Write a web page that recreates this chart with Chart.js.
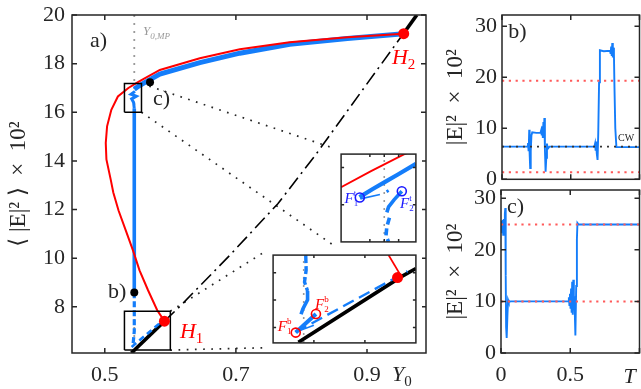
<!DOCTYPE html>
<html>
<head>
<meta charset="utf-8">
<script src="https://cdn.jsdelivr.net/npm/chart.js@4.4.1/dist/chart.umd.min.js"></script>
<style>
  html, body { margin: 0; padding: 0; background: #fff; }
  #wrap { position: relative; width: 641px; height: 389px; overflow: hidden; }
  canvas { position: absolute; }
  .inset { background: #fff; }
</style>
</head>
<body>
<div id="wrap">
  <canvas id="main" width="440" height="389" style="left:0;top:0"></canvas>
  <canvas id="pb" width="201" height="190" style="left:440px;top:0"></canvas>
  <canvas id="pc" width="201" height="204" style="left:440px;top:185px"></canvas>
  <canvas id="insT" class="inset"></canvas>
  <canvas id="insB" class="inset"></canvas>
</div>
<script>
// ---- data ----
// a) main bifurcation diagram: Y0 vs <|E|^2> x 10^2
const mainXTicks = [0.5, 0.7, 0.9];
const mainYTicks = [8, 10, 12, 14, 16, 18, 20];

const redY0 = [0.591, 0.580, 0.566, 0.553, 0.543, 0.532, 0.521, 0.513, 0.509, 0.5025, 0.5015, 0.5035, 0.510, 0.520, 0.536, 0.548, 0.558, 0.584, 0.645, 0.706, 0.782, 0.870, 0.956];
const redE  = [7.41, 7.86, 8.68, 9.50, 10.32, 11.14, 11.96, 12.70, 13.24, 14.06, 14.74, 15.42, 16.10, 16.65, 17.00, 17.20, 17.35, 17.74, 18.22, 18.59, 18.88, 19.08, 19.23];

const blueUpY0 = [0.545, 0.553, 0.566, 0.584, 0.645, 0.706, 0.782, 0.870, 0.956];
const blueUpE  = [16.95, 17.10, 17.30, 17.57, 18.04, 18.43, 18.80, 19.03, 19.23];

const blueVertY0 = [0.545, 0.545];
const blueVertE  = [16.15, 8.70];
const blueLowY0 = [0.545, 0.545, 0.543];
const blueLowE  = [8.60, 7.00, 6.40];
const blueDiagY0 = [0.541, 0.585];
const blueDiagE  = [6.35, 7.35];
const blueHookY0 = [0.545, 0.544, 0.541, 0.548, 0.540, 0.546];
const blueHookE  = [16.15, 16.40, 16.55, 16.66, 16.74, 16.86];

const blackLowY0 = [0.5406, 0.591];
const blackLowE  = [6.10, 7.41];
const blackMidY0 = [0.591, 0.614, 0.690, 0.764, 0.820, 0.890, 0.956];
const blackMidE  = [7.41, 8.00, 10.10, 12.24, 14.19, 16.80, 19.25];
const blackTopY0 = [0.956, 0.976];
const blackTopE  = [19.25, 20.00];

const hopfY0 = [0.591, 0.956];
const hopfE  = [7.41, 19.23];
const markY0 = [0.545, 0.569];
const markE  = [8.59, 17.23];
const y0MP = 0.545;

// zoom windows (rectangles) and where their insets sit, in main-axis units
const rectTop = { x: [0.530, 0.556], y: [16.00, 17.18] };
const rectBot = { x: [0.530, 0.600], y: [6.22, 7.82] };
const insetTop = { x: [0.8527, 0.9823], y: [10.46, 14.49] };
const insetBot = { x: [0.7485, 0.9823], y: [6.32, 10.34] };

// upper inset (top fold)
const uRedY0 = [0.530, 0.5404, 0.552, 0.5535];
const uRedE  = [16.735, 16.951, 17.18, 17.20];
const uBlueY0 = [0.5364, 0.5410, 0.5453, 0.5496, 0.556];
const uBlueE  = [16.602, 16.710, 16.807, 16.903, 17.048];
const uThinY0 = [0.5367, 0.5435];
const uThinE  = [16.578, 16.638];
const uBitY0 = [0.5459, 0.5468];
const uBitE  = [16.70, 16.64];
const uDownY0 = [0.5511, 0.5484, 0.5465, 0.5459];
const uDownE  = [16.680, 16.566, 16.470, 16.397];
const uTailY0 = [0.5468, 0.5459, 0.5456, 0.5465];
const uTailE  = [16.325, 16.205, 16.084, 16.00];
const uFY0 = [0.5365, 0.5511];
const uFE  = [16.596, 16.680];
const uXTicks = [0.54, 0.545, 0.55];
const uYTicks = [16.5, 17];

// lower inset (bottom fold)
const lBlackY0 = [0.5424, 0.5929, 0.600];
const lBlackE  = [6.231, 7.428, 7.575];
const lRedY0 = [0.5929, 0.5866];
const lRedE  = [7.428, 7.82];
const lDashY0 = [0.5411, 0.5959];
const lDashE  = [6.416, 7.526];
const lThinY0 = [0.5411, 0.550];
const lThinE  = [6.416, 6.542];
const lFY0 = [0.5411, 0.5510];
const lFE  = [6.408, 6.747];
const lWigDashY0 = [0.5460, 0.5462, 0.5454, 0.5469];
const lWigDashE  = [7.82, 7.547, 7.330, 7.167];
const lWigY0 = [0.5469, 0.5469, 0.5446, 0.5437];
const lWigE  = [7.167, 7.004, 6.840, 6.742];
const lXTicks = [0.55, 0.575];
const lYTicks = [6.5, 7, 7.5];

// b) and c) time traces: T vs |E|^2 x 10^2
const sideXTicks = [0, 0.5, 1];
const sideYTicks = [0, 10, 20, 30];
const bT = [0, 0.185, 0.189, 0.193, 0.196, 0.198, 0.201, 0.205, 0.209, 0.214, 0.22, 0.25, 0.28, 0.285, 0.289, 0.293, 0.297, 0.301, 0.305, 0.308, 0.312, 0.317, 0.322, 0.327, 0.333, 0.345,
            0.5, 0.672, 0.677, 0.681, 0.685, 0.689, 0.695, 0.70, 0.706, 0.712, 0.74, 0.786, 0.79, 0.794, 0.798, 0.802, 0.806, 0.81, 0.814, 0.818, 0.824, 0.832, 1.0];
const bE = [6.4, 6.4, 7.1, 5.7, 7.6, 9.7, 5.0, 2.2, 5.5, 8.6, 9.2, 9.1, 9.1, 9.6, 8.6, 10.4, 8.1, 11.2, 8.4, 12.0, 6.0, 1.5, 4.2, 7.0, 6.0, 6.4,
            6.4, 6.4, 7.0, 5.6, 7.4, 5.1, 3.8, 9.0, 19.0, 25.3, 25.1, 25.2, 24.6, 26.0, 24.2, 26.7, 23.9, 25.8, 24.5, 18.0, 10.0, 6.3, 6.3];
const bRedLevels = [19.3, 1.4];
const bCW = 6.4;

const cT = [0, 0.004, 0.008, 0.012, 0.016, 0.02, 0.024, 0.028, 0.031, 0.034, 0.037, 0.041, 0.046, 0.051, 0.056, 0.07, 0.3,
            0.485, 0.49, 0.494, 0.498, 0.502, 0.506, 0.51, 0.514, 0.518, 0.522, 0.526, 0.53, 0.537, 0.543, 0.548, 0.552, 0.56, 1.0];
const cE = [24.9, 25.6, 23.4, 25.8, 22.9, 26.0, 23.8, 27.0, 28.1, 15.0, 5.0, 2.9, 7.0, 10.3, 9.9, 10.0, 10.0,
            10.0, 10.8, 9.3, 11.5, 8.6, 12.5, 7.8, 13.8, 7.4, 14.2, 8.5, 11.0, 3.4, 13.0, 22.0, 25.2, 24.9, 24.9];
const cRedLevels = [24.9, 10.0];

// ---- styling / helpers ----
const FONT = "'Liberation Serif', 'DejaVu Serif', serif";
const INK = '#262626';
const BLUE = 'rgb(20,125,250)';
const RED = '#ff0000';
const DEEPBLUE = '#1a1aff';

Chart.defaults.font.family = FONT;
Chart.defaults.color = INK;
Chart.defaults.animation = false;
Chart.defaults.plugins.legend.display = false;
Chart.defaults.plugins.tooltip.enabled = false;

function line(xs, ys, color, width, dash, extra) {
  return Object.assign({
    data: xs.map((x, i) => ({ x: x, y: ys[i] })),
    showLine: true,
    borderColor: color,
    backgroundColor: color,
    borderWidth: width,
    borderDash: dash || [],
    pointRadius: 0,
    tension: 0
  }, extra || {});
}
function dots(xs, ys, color, r, open) {
  return {
    data: xs.map((x, i) => ({ x: x, y: ys[i] })),
    showLine: false,
    pointRadius: r,
    pointBorderWidth: open ? 1.6 : 0,
    pointBorderColor: color,
    pointBackgroundColor: open ? 'rgba(255,255,255,0)' : color
  };
}
function box(b, color, width, dash) {
  return line([b.x[0], b.x[1], b.x[1], b.x[0], b.x[0]], [b.y[0], b.y[0], b.y[1], b.y[1], b.y[0]], color, width, dash);
}
// first in list is drawn first (bottom)
function stack(list) {
  return list.map((d, i) => Object.assign(d, { order: list.length - i }));
}

function axis(min, max, ticks, o) {
  o = o || {};
  return {
    type: 'linear', min: min, max: max,
    display: o.display !== false,
    grid: { display: false, drawTicks: false },
    border: { display: false },
    ticks: {
      display: o.labels !== false, autoSkip: false, maxRotation: 0,
      padding: o.pad || 6, font: { size: 22 }, color: INK,
      callback: o.fmt || (v => String(v))
    },
    title: o.title ? { display: true, text: o.title, font: { size: 23 }, color: INK, padding: { top: o.tpad || 0, bottom: 0 } } : { display: false },
    afterBuildTicks: s => { s.ticks = ticks.map(v => ({ value: v })); },
    afterFit: s => {
      s.paddingTop = 0; s.paddingBottom = 0; s.paddingLeft = 0; s.paddingRight = 0;
      if (o.size != null) { if (s.isHorizontal()) s.height = o.size; else s.width = o.size; }
    }
  };
}

// MATLAB-like box with inward ticks on all four sides
function makeFrame(xt, yt, len, width) {
  return {
    id: 'frame',
    afterDatasetsDraw(chart) {
      const { ctx, chartArea: a } = chart;
      const sx = chart.scales.x, sy = chart.scales.y;
      ctx.save();
      ctx.strokeStyle = INK;
      ctx.lineWidth = width;
      ctx.beginPath();
      xt.forEach(v => {
        const p = sx.getPixelForValue(v);
        ctx.moveTo(p, a.bottom); ctx.lineTo(p, a.bottom - len);
        ctx.moveTo(p, a.top); ctx.lineTo(p, a.top + len);
      });
      yt.forEach(v => {
        const p = sy.getPixelForValue(v);
        ctx.moveTo(a.left, p); ctx.lineTo(a.left + len, p);
        ctx.moveTo(a.right, p); ctx.lineTo(a.right - len, p);
      });
      ctx.stroke();
      ctx.strokeRect(a.left, a.top, a.right - a.left, a.bottom - a.top);
      ctx.restore();
    }
  };
}

// text notes anchored in data units (left edge, vertical middle)
function makeNotes(items) {
  return {
    id: 'notes',
    afterDraw(chart) {
      const { ctx } = chart;
      const sx = chart.scales.x, sy = chart.scales.y;
      ctx.save();
      ctx.textBaseline = 'middle';
      ctx.textAlign = 'left';
      items.forEach(n => {
        const x = sx.getPixelForValue(n.x), y = sy.getPixelForValue(n.y);
        const size = n.size || 22;
        ctx.fillStyle = n.color || INK;
        ctx.font = (n.italic ? 'italic ' : '') + size + 'px ' + FONT;
        ctx.fillText(n.text, x, y);
        const w = ctx.measureText(n.text).width;
        const s2 = Math.round(size * (n.scale || 0.68));
        ctx.font = (n.scriptItalic ? 'italic ' : '') + s2 + 'px ' + FONT;
        if (n.sub) ctx.fillText(n.sub, x + w + (n.subDx || 0), y + size * 0.32);
        if (n.sup) ctx.fillText(n.sup, x + w + (n.supDx || 0), y - size * 0.36);
      });
      ctx.restore();
    }
  };
}

// ---- a) main chart ----
const main = new Chart(document.getElementById('main'), {
  type: 'scatter',
  data: {
    datasets: stack([
      line([y0MP, y0MP], [6.1, 20], '#9a9a9a', 1.8, [2, 6]),
      line([rectTop.x[1], insetTop.x[0]], [rectTop.y[1], insetTop.y[1]], INK, 1.7, [1.7, 6.5]),
      line([rectTop.x[1], insetTop.x[0]], [rectTop.y[0], insetTop.y[0]], INK, 1.7, [1.7, 6.5]),
      line([rectBot.x[1], insetBot.x[0]], [rectBot.y[1], insetBot.y[1]], INK, 1.7, [1.7, 6.5]),
      line([rectBot.x[1], insetBot.x[0]], [rectBot.y[0], insetBot.y[0]], INK, 1.7, [1.7, 6.5]),
      line(blackMidY0, blackMidE, '#000', 1.6, [14, 5, 2, 5]),
      line(blackLowY0, blackLowE, '#000', 3.6),
      line(blackTopY0, blackTopE, '#000', 3.6),
      line(blueVertY0, blueVertE, BLUE, 3.6),
      line(blueLowY0, blueLowE, BLUE, 3.2, [6, 3]),
      line(blueDiagY0, blueDiagE, BLUE, 2.6, [6, 4]),
      line(blueHookY0, blueHookE, BLUE, 3),
      line(blueUpY0, blueUpE, BLUE, 5),
      line(redY0, redE, RED, 2),
      box(rectTop, '#000', 1.5),
      box(rectBot, '#000', 1.5),
      dots(markY0, markE, '#000', 4),
      dots(hopfY0, hopfE, RED, 5.5)
    ])
  },
  options: {
    responsive: false,
    layout: { padding: { top: 15, right: 14, left: 0, bottom: 0 } },
    scales: {
      x: axis(0.45, 0.99, mainXTicks, { size: 36, pad: 9 }),
      y: axis(6.1, 20, mainYTicks, { size: 72, pad: 7, title: '\u27E8 |E|\u00B2 \u27E9  \u00D7  10\u00B2', tpad: 5 })
    }
  },
  plugins: [
    makeFrame(mainXTicks, mainYTicks, 5, 1.5),
    makeNotes([
      { x: 0.4775, y: 18.93, text: 'a)' },
      { x: 0.5736, y: 16.55, text: 'c)' },
      { x: 0.5049, y: 8.61, text: 'b)' },
      { x: 0.6147, y: 6.97, text: 'H', italic: true, sub: '1', color: RED },
      { x: 0.9381, y: 18.23, text: 'H', italic: true, sub: '2', color: RED },
      { x: 0.5583, y: 19.30, text: 'Y', italic: true, sub: '0,MP', scriptItalic: true, color: '#9a9a9a', size: 13, scale: 0.72 },
      { x: 0.9381, y: 5.197, text: 'Y', italic: true, sub: '0', size: 22 }
    ])
  ]
});

// ---- insets, placed on the main axes ----
function placeInset(id, b) {
  const sx = main.scales.x, sy = main.scales.y;
  const l = Math.round(sx.getPixelForValue(b.x[0])), r = Math.round(sx.getPixelForValue(b.x[1]));
  const t = Math.round(sy.getPixelForValue(b.y[1])), btm = Math.round(sy.getPixelForValue(b.y[0]));
  const c = document.getElementById(id);
  c.width = r - l + 2; c.height = btm - t + 2;
  c.style.left = (l - 1) + 'px'; c.style.top = (t - 1) + 'px';
  return c;
}
function insetOptions(rect, xt, yt) {
  return {
    responsive: false,
    layout: { padding: 1 },
    scales: {
      x: axis(rect.x[0], rect.x[1], xt, { display: false }),
      y: axis(rect.y[0], rect.y[1], yt, { display: false })
    }
  };
}

new Chart(placeInset('insT', insetTop), {
  type: 'scatter',
  data: {
    datasets: stack([
      line([y0MP, y0MP], [rectTop.y[0], rectTop.y[1]], '#9a9a9a', 1.6, [2, 6]),
      line(uRedY0, uRedE, RED, 1.8),
      line(uTailY0, uTailE, BLUE, 3.6, [7, 4]),
      line(uThinY0, uThinE, BLUE, 1.6),
      line(uBitY0, uBitE, BLUE, 2.4, [3, 3]),
      line(uDownY0, uDownE, BLUE, 3.6),
      line(uBlueY0, uBlueE, BLUE, 4.2),
      dots(uFY0, uFE, DEEPBLUE, 4.5, true)
    ])
  },
  options: insetOptions(rectTop, uXTicks, uYTicks),
  plugins: [
    makeFrame(uXTicks, uYTicks, 3, 1.5),
    makeNotes([
      { x: 0.5312, y: 16.578, text: 'F', italic: true, sub: '1', sup: 't', color: DEEPBLUE, size: 15, scale: 0.62 },
      { x: 0.5505, y: 16.506, text: 'F', italic: true, sub: '2', sup: 't', color: DEEPBLUE, size: 15, scale: 0.62 }
    ])
  ]
});

new Chart(placeInset('insB', insetBot), {
  type: 'scatter',
  data: {
    datasets: stack([
      line([y0MP, y0MP], [rectBot.y[0], rectBot.y[1]], '#9a9a9a', 1.6, [2, 6]),
      line(lRedY0, lRedE, RED, 1.8),
      line(lBlackY0, lBlackE, '#000', 3.6),
      line(lDashY0, lDashE, BLUE, 2.4, [12, 6]),
      line(lThinY0, lThinE, BLUE, 1.5),
      line(lWigDashY0, lWigDashE, BLUE, 3.4, [8, 3]),
      line(lWigY0, lWigE, BLUE, 3.6),
      line(lFY0, lFE, BLUE, 4),
      dots(lFY0, lFE, RED, 4.5, true),
      dots([hopfY0[0]], [hopfE[0]], RED, 5.5)
    ])
  },
  options: insetOptions(rectBot, lXTicks, lYTicks),
  plugins: [
    makeFrame(lXTicks, lYTicks, 3, 1.5),
    makeNotes([
      { x: 0.5323, y: 6.514, text: 'F', italic: true, sub: '1', sup: 'b', color: RED, size: 15, scale: 0.62 },
      { x: 0.5506, y: 6.906, text: 'F', italic: true, sub: '2', sup: 'b', color: RED, size: 15, scale: 0.62 }
    ])
  ]
});

// ---- b) time trace ----
new Chart(document.getElementById('pb'), {
  type: 'scatter',
  data: {
    datasets: stack([
      line(bT, bE, BLUE, 1.9),
      line([0, 1], [bCW, bCW], '#333', 1.8, [2, 5]),
      line([0, 1], [bRedLevels[0], bRedLevels[0]], '#ff5a5a', 2, [2.2, 4.6]),
      line([0, 1], [bRedLevels[1], bRedLevels[1]], '#ff5a5a', 2, [2.2, 4.6])
    ])
  },
  options: {
    responsive: false,
    layout: { padding: { top: 15, right: 1.5, left: 0, bottom: 10.7 } },
    scales: {
      x: axis(0, 1, sideXTicks, { display: false }),
      y: axis(0, 32.2, sideYTicks, { size: 62, pad: 5, title: '|E|\u00B2  \u00D7  10\u00B2', tpad: 2 })
    }
  },
  plugins: [
    makeFrame(sideXTicks, sideYTicks, 5, 1.5),
    makeNotes([
      { x: 0.0457, y: 28.76, text: 'b)' },
      { x: 0.844, y: 8.02, text: 'CW', size: 10 }
    ])
  ]
});

// ---- c) time trace ----
new Chart(document.getElementById('pc'), {
  type: 'scatter',
  data: {
    datasets: stack([
      line(cT, cE, BLUE, 1.9),
      line([0, 1], [cRedLevels[0], cRedLevels[0]], '#ff5a5a', 2, [2.2, 4.6]),
      line([0, 1], [cRedLevels[1], cRedLevels[1]], '#ff5a5a', 2, [2.2, 4.6])
    ])
  },
  options: {
    responsive: false,
    layout: { padding: { top: 5, right: 1.5, left: 0, bottom: 0 } },
    scales: {
      x: axis(0, 1, sideXTicks, { size: 36, pad: 9, fmt: v => (v === 1 ? '' : String(v)) }),
      y: axis(0, 31.6, sideYTicks, { size: 61, pad: 5, title: '|E|\u00B2  \u00D7  10\u00B2', tpad: 2 })
    }
  },
  plugins: [
    makeFrame(sideXTicks, sideYTicks, 5, 1.5),
    makeNotes([
      { x: 0.0435, y: 28.31, text: 'c)' },
      { x: 0.884, y: -4.6, text: 'T', italic: true, size: 22 }
    ])
  ]
});
</script>
</body>
</html>
